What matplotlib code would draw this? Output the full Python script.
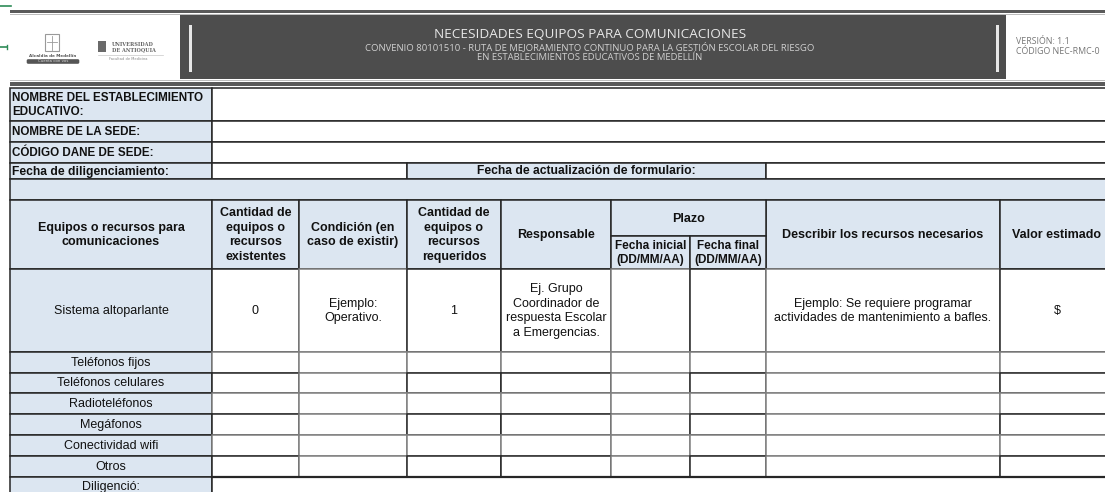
# %% Libraries
import matplotlib
matplotlib.use("Agg")
import matplotlib.pyplot as plt
from matplotlib.patches import Rectangle, FancyBboxPatch

# %% Data
# --+ header texts
title = "NECESIDADES EQUIPOS PARA COMUNICACIONES"
subtitle = ["CONVENIO 80101510 - RUTA DE MEJORAMIENTO CONTINUO PARA LA GESTIÓN ESCOLAR DEL RIESGO",
            "EN ESTABLECIMIENTOS EDUCATIVOS DE MEDELLÍN"]
version = ["VERSIÓN: 1.1", "CÓDIGO NEC-RMC-0"]
# --+ info rows
info_labels = ["NOMBRE DEL ESTABLECIMIENTO\nEDUCATIVO:", "NOMBRE DE LA SEDE:", "CÓDIGO DANE DE SEDE:"]
fecha_labels = ["Fecha de diligenciamiento:", "Fecha de actualización de formulario:"]
# --+ table columns
col_headers = ["Equipos o recursos para\ncomunicaciones",
               "Cantidad de\nequipos o\nrecursos\nexistentes",
               "Condición (en\ncaso de existir)",
               "Cantidad de\nequipos o\nrecursos\nrequeridos",
               "Responsable",
               None, None,
               "Describir los recursos necesarios",
               "Valor estimado"]
plazo = "Plazo"
plazo_sub = ["Fecha inicial\n(DD/MM/AA)", "Fecha final\n(DD/MM/AA)"]
# --+ example row
example_row = ["Sistema altoparlante", "0", "Ejemplo:\nOperativo.", "1",
               "Ej. Grupo\nCoordinador de\nrespuesta Escolar\na Emergencias.",
               "", "", "Ejemplo: Se requiere programar\nactividades de mantenimiento a bafles.", "$"]
# --+ resources
resources = ["Teléfonos fijos", "Teléfonos celulares", "Radioteléfonos",
             "Megáfonos", "Conectividad wifi", "Otros"]
footer = "Diligenció:"

# %% Layout (pixels)
W, H = 1105, 492
cols = [10, 212, 299, 407, 501, 611, 690, 766, 1000, 1115]
blue = "#dce6f1"
dark = "#4d4d4d"
line_dk = "#262626"
line_gy = "#808080"
FONT = "Liberation Sans"

fig = plt.figure(figsize=(W / 100, H / 100), dpi=100)
ax = fig.add_axes([0, 0, 1, 1])
ax.set_xlim(0, W)
ax.set_ylim(H, 0)
ax.axis("off")


def cell(x0, x1, y0, y1, fc="white", ec=line_dk, lw=1.1):
    ax.add_patch(Rectangle((x0, y0), x1 - x0, y1 - y0, facecolor=fc, edgecolor=ec, linewidth=lw))


def txt(x, y, s, bold=False, ha="center", size=9, **kw):
    ax.text(x, y, s, ha=ha, va="center", fontsize=size, family=FONT,
            fontweight="bold" if bold else "normal", multialignment=ha,
            linespacing=1.3, color="#111111", **kw)


# %% Header band
# --+ green marks on the left
ax.plot([0, 11], [6, 6], color="#2e8b57", lw=1.2)
ax.plot([0, 7], [47, 47], color="#2e8b57", lw=1.2)
ax.plot([7, 7], [45, 49], color="#2e8b57", lw=1)
# --+ top and bottom rules
ax.add_patch(Rectangle((10, 9.5), W, 3, color="#5a5a5a", lw=0))
ax.add_patch(Rectangle((10, 13.5), W, 1, color="#bdbdbd", lw=0))
ax.add_patch(Rectangle((10, 80), W, 1, color="#bdbdbd", lw=0))
ax.add_patch(Rectangle((10, 82), W, 3.5, color="#5a5a5a", lw=0))
# --+ dark title box
ax.add_patch(Rectangle((180, 15), 826, 64, color=dark, lw=0))
ax.add_patch(Rectangle((189, 25), 3, 47, color="#e6e6e6", lw=0))
ax.add_patch(Rectangle((996, 25), 3, 47, color="#e6e6e6", lw=0))
ax.text(590, 35, title, ha="center", va="center", fontsize=9.7, family="Open Sans", color="#e8e8e8")
ax.text(590, 47.5, subtitle[0], ha="center", va="center", fontsize=6.8, family="Open Sans", color="#d0d0d0")
ax.text(590, 58, subtitle[1], ha="center", va="center", fontsize=6.8, family="Open Sans", color="#d0d0d0")
ax.text(1016, 42, version[0], ha="left", va="center", fontsize=6.4, family="Open Sans", color="#777777")
ax.text(1016, 52, version[1], ha="left", va="center", fontsize=6.4, family="Open Sans", color="#777777")
# --+ logos (simplified)
ax.add_patch(Rectangle((45, 34), 14, 17, facecolor="white", edgecolor="#9a9a9a", lw=0.8))
ax.plot([52, 52], [36, 50], color="#9a9a9a", lw=0.6)
ax.plot([47, 57], [42, 42], color="#9a9a9a", lw=0.6)
ax.text(53, 56, "Alcaldía de Medellín", ha="center", va="center", fontsize=3, family="DejaVu Sans",
        fontweight="bold", color="#555555")
ax.add_patch(FancyBboxPatch((27, 59.5), 52, 4, boxstyle="round,pad=0.3,rounding_size=1.5",
                            facecolor="#555555", edgecolor="none"))
ax.text(53, 61.5, "Cuenta con vos", ha="center", va="center", fontsize=2.8, family="DejaVu Sans", color="#dddddd")
ax.add_patch(Rectangle((98, 41), 8, 11, color="#6a6a6a", lw=0))
ax.text(112, 44, "UNIVERSIDAD", ha="left", va="center", fontsize=3.6, family="DejaVu Serif",
        fontweight="bold", color="#666666")
ax.text(112, 50, "DE ANTIOQUIA", ha="left", va="center", fontsize=3.6, family="DejaVu Serif",
        fontweight="bold", color="#666666")
ax.plot([98, 163], [54.5, 54.5], color="#c8c8c8", lw=0.5)
ax.text(128, 59, "Facultad de Medicina", ha="center", va="center", fontsize=2.6, family="DejaVu Sans", color="#888888")

# %% Info rows
info_y = [88, 121, 142, 163]
for label, y0, y1 in zip(info_labels, info_y[:-1], info_y[1:]):
    cell(cols[0], cols[1], y0, y1, fc=blue)
    cell(cols[1], cols[-1], y0, y1)
    ax.text(12, (y0 + y1) / 2 + 0.5, label, ha="left", va="center", fontsize=8.4, family=FONT,
            fontweight="bold", linespacing=1.3, color="#111111")
# --+ fecha row
y0, y1 = 163, 179
cell(cols[0], cols[1], y0, y1, fc=blue)
cell(cols[1], cols[3], y0, y1)
cell(cols[3], cols[7], y0, y1, fc=blue)
cell(cols[7], cols[-1], y0, y1)
txt(12, (y0 + y1) / 2 + 0.5, fecha_labels[0], bold=True, ha="left", size=8.7)
txt((cols[3] + cols[7]) / 2, (y0 + y1) / 2 + 0.5, fecha_labels[1], bold=True, size=8.7)
# --+ blank band
cell(cols[0], cols[-1], 179, 200, fc=blue)

# %% Table header
hy0, hmid, hy1 = 200, 236, 269
for i, head in enumerate(col_headers):
    if head is None:
        continue
    cell(cols[i], cols[i + 1], hy0, hy1, fc=blue)
    txt((cols[i] + cols[i + 1]) / 2 if i < 8 else 1057, (hy0 + hy1) / 2 + 0.5, head, bold=True)
cell(cols[5], cols[7], hy0, hmid, fc=blue)
txt((cols[5] + cols[7]) / 2, (hy0 + hmid) / 2 + 0.5, plazo, bold=True)
for j, sub in enumerate(plazo_sub):
    cell(cols[5 + j], cols[6 + j], hmid, hy1, fc=blue)
    txt((cols[5 + j] + cols[6 + j]) / 2, (hmid + hy1) / 2 + 0.5, sub, bold=True, size=8.5)

# %% Body
ey0, ey1 = 269, 352
for i, val in enumerate(example_row):
    cell(cols[i], cols[i + 1], ey0, ey1, fc=blue if i == 0 else "white",
         ec=line_gy if i in (2, 5, 7) else line_dk)
    if val:
        txt((cols[i] + cols[i + 1]) / 2 if i < 8 else 1057, (ey0 + ey1) / 2 + 0.5, val)

row_y = [352, 373, 393, 414, 435, 456, 477]
for k, (name, y0, y1) in enumerate(zip(resources, row_y[:-1], row_y[1:])):
    for i in range(len(cols) - 1):
        cell(cols[i], cols[i + 1], y0, y1, fc=blue if i == 0 else "white",
             ec=line_gy if (i in (2, 5, 7) or k % 2 == 0) and i != 0 else line_dk)
    txt((cols[0] + cols[1]) / 2, (y0 + y1) / 2 + 0.5, name)

# --+ footer row
cell(cols[0], cols[1], 477, 500, fc=blue)
cell(cols[1], cols[-1], 477, 500)
ax.plot([cols[1], cols[-1]], [477, 477], color=line_dk, lw=1.6)
txt((cols[0] + cols[1]) / 2, 487, footer)

fig.savefig("out.png", dpi=100)
